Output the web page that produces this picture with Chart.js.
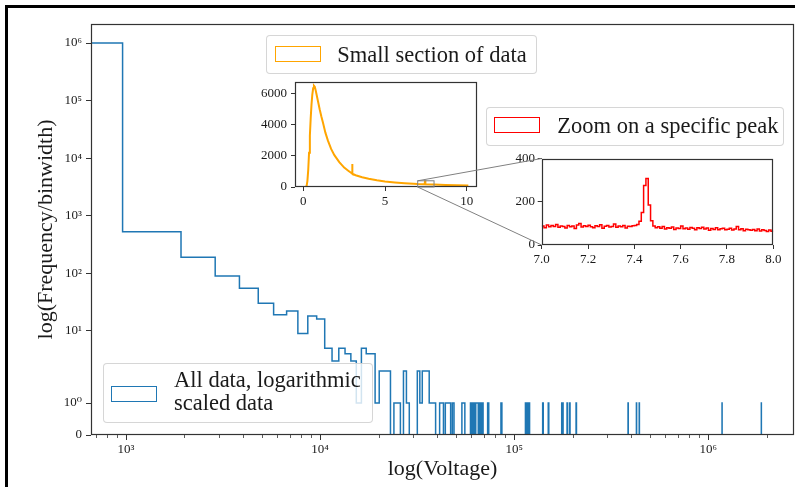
<!DOCTYPE html>
<html>
<head>
<meta charset="utf-8">
<script src="https://cdn.jsdelivr.net/npm/chart.js@4.4.1/dist/chart.umd.min.js"></script>
<style>
  html, body { margin: 0; padding: 0; background: #fff; }
  #wrap { position: relative; width: 795px; height: 487px; overflow: hidden;
          font-family: "Liberation Serif", "DejaVu Serif", serif; color: #1a1a1a; }
  canvas { position: absolute; }
  #main { left: 0; top: 0; }
  #inset1 { left: 255px; top: 70px; }
  #inset2 { left: 500px; top: 148px; }
  #links { left: 0; top: 0; pointer-events: none; }
  .legend { position: absolute; box-sizing: border-box; background: rgba(255,255,255,0.8);
            border: 1px solid rgba(204,204,204,0.8); border-radius: 4px; }
  .handle { position: absolute; box-sizing: border-box; border: 1.5px solid; }
  .label { position: absolute; font-size: 22.5px; line-height: 22.5px; white-space: nowrap; }
  #frame { position: absolute; left: 5px; top: 5px; width: 900px; height: 700px;
           border-left: 3px solid #000; border-top: 3px solid #000; pointer-events: none; }
</style>
</head>
<body>
<div id="wrap">
  <canvas id="main" width="795" height="487"></canvas>

  <div class="legend" style="left:102.7px; top:362.7px; width:270px; height:60.6px;"></div>
  <div class="handle" style="left:111px; top:385.7px; width:45.7px; height:16.6px; border-color:#1f77b4;"></div>
  <div class="label" style="left:174px; top:367.8px; line-height:23.3px;">All data, logarithmic<br>scaled data</div>

  <canvas id="inset1" width="228" height="145"></canvas>
  <canvas id="inset2" width="285" height="120"></canvas>
  <canvas id="links" width="795" height="487"></canvas>

  <div class="legend" style="left:266px; top:35px; width:271.3px; height:39.3px;"></div>
  <div class="handle" style="left:274.7px; top:45.7px; width:46px; height:16.6px; border-color:orange;"></div>
  <div class="label" style="left:337.3px; top:43.5px;">Small section of data</div>

  <div class="legend" style="left:485.7px; top:106.7px; width:298.6px; height:39px;"></div>
  <div class="handle" style="left:493.7px; top:116.7px; width:46.3px; height:16px; border-color:red;"></div>
  <div class="label" style="left:557.3px; top:114.5px;">Zoom on a specific peak</div>

  <div id="frame"></div>
</div>

<script>
// ---- datos del histograma principal (bins lineales de ancho ~960 V) ----
const BIN_W = 960;
const N_BINS = 2000;
const histBin = [0, 1, 2, 3, 4, 5, 6, 7, 8, 9, 10, 11, 12, 13, 14, 15, 16, 17, 18, 19,
  20, 21, 22, 23, 25, 26, 28, 29, 33, 34, 35, 36, 37, 38, 39, 40, 43, 44, 46, 47, 48, 50,
  56, 57, 62, 64, 66, 67, 69, 71, 76, 89, 119, 121, 122, 124, 146, 156, 183, 185, 195,
  201, 217, 402, 444, 459, 1226, 1954];
const histCount = [1000000, 525, 190, 90, 55, 30, 19, 22, 9, 18, 16, 5, 3, 5, 4, 3, 1, 5, 4, 4,
  1, 2, 2, 2, 1, 1, 2, 1, 2, 1, 2, 2, 2, 1, 1, 1, 1, 1, 1, 1, 1, 1,
  1, 1, 1, 1, 1, 1, 1, 1, 1, 1, 1, 1, 1, 1, 1, 1, 1, 1, 1,
  1, 1, 1, 1, 1, 1, 1];
const xMajor = [1e3, 1e4, 1e5, 1e6];
const yTicks = [0, 1, 10, 100, 1e3, 1e4, 1e5, 1e6];
const X_MIN = 660, X_MAX = 2.764e6, Y_MAX = 2.14e6;

// ---- recuadro "Small section of data" ----
const orangeX = [0.00, 0.10, 0.20, 0.25, 0.30, 0.35, 0.40, 0.45, 0.50, 0.55, 0.60, 0.65, 0.70,
  0.75, 0.80, 0.90, 1.00, 1.10, 1.20, 1.35, 1.50, 1.70, 1.90, 2.20, 2.50, 2.75, 2.98, 2.99,
  3.00, 3.01, 3.20, 3.60, 4.00, 4.50, 5.00, 5.60, 6.20, 7.00, 7.43, 7.45, 7.47, 8.00, 8.70,
  9.40, 10.10];
const orangeY = [0, 0, 60, 400, 1100, 2200, 3300, 4400, 5300, 5950, 6350, 6520, 6460,
  6250, 6000, 5500, 5000, 4550, 4150, 3500, 3000, 2450, 2050, 1600, 1250, 1050, 870, 1480,
  1480, 850, 760, 630, 530, 430, 350, 290, 240, 190, 185, 430, 180, 160, 130,
  110, 95];
const orangeXTicks = [0, 5, 10];
const orangeYTicks = [0, 2000, 4000, 6000];

// ---- recuadro "Zoom on a specific peak" (bins de 0.01) ----
const ZOOM_X = [7, 8];
const ZOOM_Y = [0, 400];
const RED_W = 0.01;
const redCount = [
  88, 80, 92, 84, 90, 86, 95, 82, 88, 85,
  79, 90, 84, 88, 76, 92, 100, 83, 89, 86,
  91, 84, 80, 89, 85, 94, 78, 87, 90, 83,
  86, 97, 82, 88, 84, 90, 79, 87, 85, 89,
  90, 95, 110, 150, 275, 308, 185, 112, 88, 80,
  84, 78, 86, 74, 80, 77, 83, 72, 79, 76,
  88, 75, 79, 73, 81, 77, 70, 80, 76, 82,
  74, 79, 68, 76, 72, 80, 70, 75, 78, 71,
  73, 77, 69, 74, 85, 71, 75, 66, 73, 70,
  68, 72, 66, 74, 65, 70, 67, 63, 69, 64];
const redXTicks = [7.0, 7.2, 7.4, 7.6, 7.8, 8.0];
const redYTicks = [0, 200, 400];

const BLUE = '#1f77b4';
const AX = '#333';
const TXT = '#1a1a1a';
const FAMILY = '"Liberation Serif", "DejaVu Serif", serif';
const tickFont = { family: FAMILY, size: 13 };
const titleFont = { family: FAMILY, size: 22 };

// Escala symlog (linthresh = 2, linscale = 1, como matplotlib)
const LIN_T = 2;
const LIN_S = 1 / (1 - 1 / 10);
function symT(v) {
  const a = Math.abs(v);
  const r = a <= LIN_T ? a * LIN_S / LIN_T : LIN_S + Math.log10(a / LIN_T);
  return v < 0 ? -r : r;
}
function symInv(r) {
  const a = Math.abs(r);
  const v = a <= LIN_S ? a * LIN_T / LIN_S : LIN_T * Math.pow(10, a - LIN_S);
  return r < 0 ? -v : v;
}
class SymlogScale extends Chart.LinearScale {
  static id = 'symlog';
  static defaults = {};
  buildTicks() {
    return yTicks.map(v => ({ value: v }));
  }
  configure() {
    super.configure();
    this._sMin = symT(this.min);
    this._sMax = symT(this.max);
  }
  getPixelForValue(v) {
    return this.getPixelForDecimal((symT(v) - this._sMin) / (this._sMax - this._sMin));
  }
  getValueForPixel(p) {
    return symInv(this._sMin + this.getDecimalForPixel(p) * (this._sMax - this._sMin));
  }
}
Chart.register(SymlogScale);

const SUP = { '0': '⁰', '1': '¹', '2': '²', '3': '³', '4': '⁴', '5': '⁵', '6': '⁶', '7': '⁷', '8': '⁸', '9': '⁹', '-': '⁻' };
function pow10Label(v) {
  const e = String(Math.round(Math.log10(v)));
  return '10' + e.split('').map(c => SUP[c]).join('');
}

// Marco de los ejes (cuatro lados) y fondo blanco opcional
const framePlugin = {
  id: 'frame',
  beforeDraw(chart, args, opts) {
    if (!opts.fill) return;
    const { ctx, chartArea: a } = chart;
    ctx.save();
    ctx.fillStyle = opts.fill;
    ctx.fillRect(a.left, a.top, a.right - a.left, a.bottom - a.top);
    ctx.restore();
  },
  afterDatasetsDraw(chart, args, opts) {
    const { ctx, chartArea: a } = chart;
    const l = Math.round(a.left) + 0.5, t = Math.round(a.top) + 0.5;
    const r = Math.round(a.right) - 0.5, b = Math.round(a.bottom) - 0.5;
    ctx.save();
    ctx.strokeStyle = AX;
    ctx.lineWidth = 1.2;
    ctx.strokeRect(l, t, r - l, b - t);
    ctx.restore();
  }
};

// Marcas menores del eje logarítmico
const minorTickPlugin = {
  id: 'minorTicks',
  afterDraw(chart) {
    const s = chart.scales.x;
    const { ctx, chartArea: a } = chart;
    ctx.save();
    ctx.strokeStyle = AX;
    ctx.lineWidth = 0.8;
    ctx.beginPath();
    for (let e = 2; e <= 6; e++) {
      for (let m = 2; m <= 9; m++) {
        const v = m * Math.pow(10, e);
        if (v < s.min || v > s.max) continue;
        const px = Math.round(s.getPixelForValue(v)) + 0.5;
        ctx.moveTo(px, a.bottom);
        ctx.lineTo(px, a.bottom + 3);
      }
    }
    ctx.stroke();
    ctx.restore();
  }
};

// Rectángulo de la zona ampliada en el recuadro naranja
const zoomBoxPlugin = {
  id: 'zoomBox',
  afterDatasetsDraw(chart) {
    const { ctx } = chart;
    const sx = chart.scales.x, sy = chart.scales.y;
    const x0 = sx.getPixelForValue(ZOOM_X[0]), x1 = sx.getPixelForValue(ZOOM_X[1]);
    const y0 = sy.getPixelForValue(ZOOM_Y[0]), y1 = sy.getPixelForValue(ZOOM_Y[1]);
    ctx.save();
    ctx.strokeStyle = '#808080';
    ctx.lineWidth = 1;
    ctx.strokeRect(x0, y1, x1 - x0, y0 - y1);
    ctx.restore();
  }
};

// Construir la línea escalonada del histograma
const histPts = [];
let prevBin = null;
histBin.forEach((b, i) => {
  if (prevBin !== null && b > prevBin + 1) histPts.push({ x: (prevBin + 1) * BIN_W, y: 0 });
  histPts.push({ x: b === 0 ? 1 : b * BIN_W, y: histCount[i] });
  prevBin = b;
});
histPts.push({ x: (prevBin + 1) * BIN_W, y: 0 });
histPts.push({ x: N_BINS * BIN_W, y: 0 });

const orangePts = orangeX.map((x, i) => ({ x: x, y: orangeY[i] }));
const redPts = redCount.map((c, i) => ({ x: ZOOM_X[0] + i * RED_W, y: c }));
redPts.push({ x: ZOOM_X[1], y: redCount[redCount.length - 1] });

const baseOpts = {
  responsive: false,
  animation: false,
  devicePixelRatio: 1,
  events: []
};

function fixedTicks(arr) {
  return s => { s.ticks = arr.map(v => ({ value: v })); };
}

const mainChart = new Chart(document.getElementById('main'), {
  type: 'line',
  data: {
    datasets: [{
      data: histPts,
      borderColor: BLUE,
      borderWidth: 1.5,
      pointRadius: 0,
      stepped: 'before',
      fill: false
    }]
  },
  options: Object.assign({}, baseOpts, {
    layout: { padding: { left: 8, top: 24, right: 1, bottom: 0 } },
    plugins: { legend: { display: false }, tooltip: { enabled: false }, frame: {} },
    scales: {
      x: {
        type: 'logarithmic',
        min: X_MIN,
        max: X_MAX,
        afterBuildTicks: fixedTicks(xMajor),
        afterFit: s => { s.height = 52; },
        ticks: { callback: v => pow10Label(v), font: tickFont, color: TXT, padding: 2,
                 maxRotation: 0, autoSkip: false },
        grid: { drawOnChartArea: false, tickLength: 5, tickColor: AX, tickWidth: 1 },
        border: { display: false },
        title: { display: true, text: 'log(Voltage)', font: titleFont, color: TXT,
                 padding: { top: 0, bottom: 5 } }
      },
      y: {
        type: 'symlog',
        position: 'left',
        min: 0,
        max: Y_MAX,
        afterFit: s => { s.width = 83; },
        ticks: { callback: v => v === 0 ? '0' : pow10Label(v), font: tickFont, color: TXT,
                 padding: 4, autoSkip: false },
        grid: { drawOnChartArea: false, tickLength: 5, tickColor: AX, tickWidth: 1 },
        border: { display: false },
        title: { display: true, text: 'log(Frequency/binwidth)', font: titleFont, color: TXT,
                 padding: { top: 25, bottom: 0 } }
      }
    }
  }),
  plugins: [framePlugin, minorTickPlugin]
});

const inset1 = new Chart(document.getElementById('inset1'), {
  type: 'line',
  data: {
    datasets: [{
      data: orangePts,
      borderColor: 'orange',
      borderWidth: 2,
      pointRadius: 0,
      tension: 0,
      fill: false
    }]
  },
  options: Object.assign({}, baseOpts, {
    layout: { padding: { left: 0, top: 9, right: 6, bottom: 0 } },
    plugins: { legend: { display: false }, tooltip: { enabled: false }, frame: { fill: '#fff' } },
    scales: {
      x: {
        type: 'linear', min: -0.51, max: 10.63,
        afterBuildTicks: fixedTicks(orangeXTicks),
        afterFit: s => { s.height = 28; },
        ticks: { callback: v => String(v), font: tickFont, color: TXT, padding: 2.5,
                 maxRotation: 0, autoSkip: false },
        grid: { drawOnChartArea: false, tickLength: 4, tickColor: AX, tickWidth: 1 },
        border: { display: false }
      },
      y: {
        type: 'linear', min: 0, max: 6770,
        afterBuildTicks: fixedTicks(orangeYTicks),
        afterFit: s => { s.width = 40; },
        ticks: { callback: v => String(v), font: tickFont, color: TXT, padding: 4, autoSkip: false },
        grid: { drawOnChartArea: false, tickLength: 4, tickColor: AX, tickWidth: 1 },
        border: { display: false }
      }
    }
  }),
  plugins: [framePlugin, zoomBoxPlugin]
});

const inset2 = new Chart(document.getElementById('inset2'), {
  type: 'line',
  data: {
    datasets: [{
      data: redPts,
      borderColor: 'red',
      borderWidth: 1.5,
      pointRadius: 0,
      stepped: 'before',
      fill: false
    }]
  },
  options: Object.assign({}, baseOpts, {
    layout: { padding: { left: 0, top: 8.7, right: 11.7, bottom: 0 } },
    plugins: { legend: { display: false }, tooltip: { enabled: false }, frame: { fill: '#fff' } },
    scales: {
      x: {
        type: 'linear', min: ZOOM_X[0], max: ZOOM_X[1],
        afterBuildTicks: fixedTicks(redXTicks),
        afterFit: s => { s.height = 23; },
        ticks: { callback: v => v.toFixed(1), font: tickFont, color: TXT, padding: 2.5,
                 maxRotation: 0, autoSkip: false },
        grid: { drawOnChartArea: false, tickLength: 4, tickColor: AX, tickWidth: 1 },
        border: { display: false }
      },
      y: {
        type: 'linear', min: ZOOM_Y[0], max: ZOOM_Y[1],
        afterBuildTicks: fixedTicks(redYTicks),
        afterFit: s => { s.width = 41.7; },
        ticks: { callback: v => String(v), font: tickFont, color: TXT, padding: 2.7, autoSkip: false },
        grid: { drawOnChartArea: false, tickLength: 4, tickColor: AX, tickWidth: 1 },
        border: { display: false }
      }
    }
  }),
  plugins: [framePlugin]
});

// Líneas que unen el rectángulo ampliado con el segundo recuadro
function drawLinks() {
  const ctx = document.getElementById('links').getContext('2d');
  const c1 = inset1.canvas, c2 = inset2.canvas;
  ctx.strokeStyle = '#808080';
  ctx.lineWidth = 1;
  ctx.beginPath();
  [[ZOOM_X[0], ZOOM_Y[1]], [ZOOM_X[0], ZOOM_Y[0]]].forEach(([vx, vy]) => {
    const ax = c1.offsetLeft + inset1.scales.x.getPixelForValue(vx);
    const ay = c1.offsetTop + inset1.scales.y.getPixelForValue(vy);
    const bx = c2.offsetLeft + inset2.scales.x.getPixelForValue(vx);
    const by = c2.offsetTop + inset2.scales.y.getPixelForValue(vy);
    ctx.moveTo(ax, ay);
    ctx.lineTo(bx, by);
  });
  ctx.stroke();
}
drawLinks();
</script>
</body>
</html>
